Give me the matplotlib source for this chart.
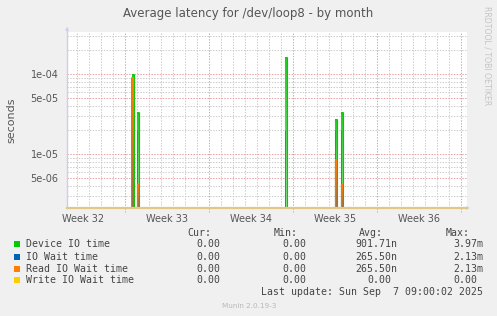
import matplotlib
matplotlib.use("Agg")
import matplotlib.pyplot as plt
from matplotlib.patches import Rectangle
from matplotlib.collections import LineCollection
from matplotlib.colors import to_rgb
import numpy as np

# ── data (x in days since the left edge of the graph) ───────────────────────
spike_day   = [5.46, 5.94, 18.28, 22.44, 22.94]
device_io   = [1.01e-4, 3.4e-5, 1.63e-4, 2.79e-5, 3.35e-5]
io_wait     = [9.3e-5, 4.3e-6, 0.0, 8.8e-6, 4.3e-6]
read_wait   = [9.3e-5, 4.3e-6, 0.0, 8.8e-6, 4.3e-6]
write_wait  = [0.0, 0.0, 0.0, 0.0, 0.0]

week_labels = ["Week 32", "Week 33", "Week 34", "Week 35", "Week 36"]
first_week_line = 4.86          # first Sunday 00:00, days from start
span_days = 33.33

series_names = ["Device IO time", "IO Wait time", "Read IO Wait time", "Write IO Wait time"]
series_cur = ["0.00", "0.00", "0.00", "0.00"]
series_min = ["0.00", "0.00", "0.00", "0.00"]
series_avg = ["901.71n", "265.50n", "265.50n", "0.00"]
series_max = ["3.97m", "2.13m", "2.13m", "0.00"]
series_col = ["#00CC00", "#0066B3", "#FF8000", "#FFCC00"]

y_lo, y_hi = 2.13e-6, 3.38e-4

# ── figure ──────────────────────────────────────────────────────────────────
W, H = 497, 316
fig = plt.figure(figsize=(W / 100, H / 100), dpi=100, facecolor="#F0F0F0")
ax = fig.add_axes([67 / W, 1 - 208 / H, 400 / W, 176 / H])
ax.set_facecolor("white")
ax.set_xlim(0, span_days)
ax.set_yscale("log")
ax.set_ylim(y_lo, y_hi)


def px(x, y):
    return x / W, 1 - y / H


# grid: daily minor, weekly major (red)
GREY = "#cccccc"
RED = "#e8a0a0"
DOT = (0, (1.4, 1.4))
for d in np.arange(first_week_line - 7, span_days, 1.0):
    if d <= 0:
        continue
    is_major = abs(((d - first_week_line) / 7) - round((d - first_week_line) / 7)) < 1e-6
    ax.axvline(d, color=RED if is_major else GREY, lw=0.72, ls=DOT, zorder=1)
    if is_major:
        ax.plot([d, d], [0, -0.022], transform=ax.get_xaxis_transform(),
                color=RED, lw=0.72, ls=DOT, clip_on=False)

for dec in [1e-6, 1e-5, 1e-4]:
    for m in range(1, 10):
        v = dec * m
        if not (y_lo < v < y_hi):
            continue
        major = m in (1, 5)
        ax.axhline(v, color=RED if major else GREY, lw=0.72, ls=DOT, zorder=1)


def grad_vline(x, v, c_top, c_bot, lw, z, n=40):
    """vertical line from the bottom to v, colour fading from c_bot to c_top"""
    ys = np.logspace(np.log10(y_lo), np.log10(v), n + 1)
    segs = [[(x, ys[k]), (x, ys[k + 1])] for k in range(n)]
    t = np.linspace(0, 1, n)[:, None]
    cols = np.array(to_rgb(c_bot)) * (1 - t) + np.array(to_rgb(c_top)) * t
    ax.add_collection(LineCollection(segs, colors=cols, linewidths=lw, zorder=z))


# data lines
ax.axhline(y_lo * 1.003, color="#E2C888", lw=1.6, zorder=6, clip_on=False)
hw = 0.09
for d, g, o in zip(spike_day, device_io, read_wait):
    # green column (device IO)
    grad_vline(d, g, "#22cc22", "#88dd88", 1.5, 3)
    ax.vlines(d + hw, y_lo, g, color=series_col[0], lw=0.8, zorder=4)
    ax.vlines(d, g * 0.97, g, color=series_col[0], lw=2.2, zorder=4)
    ax.vlines(d - hw, y_lo, min(g, 2e-5), color="#8a6a40", lw=0.7, zorder=4)
    if o > 0:
        grad_vline(d, o, series_col[2], "#9a7048", 1.6, 5)
        ax.vlines(d - hw, y_lo, o, color="#e07820", lw=0.7, zorder=5)

# axes
for s in ax.spines.values():
    s.set_visible(False)
ax.plot([0, 0], [0, 1.02], transform=ax.transAxes, color="#ccccee",
        lw=1, clip_on=False, zorder=5)
ax.annotate("", xy=(0, 1.045), xytext=(0, 1.0), xycoords="axes fraction",
            arrowprops=dict(arrowstyle="-|>", color="#ccccee", lw=0,
                            mutation_scale=7))
ax.annotate("", xy=(1.014, 0), xytext=(0.998, 0), xycoords="axes fraction",
            arrowprops=dict(arrowstyle="-|>", color="#ccccee", lw=0,
                            mutation_scale=7))

ax.set_yticks([5e-6, 1e-5, 5e-5, 1e-4])
ax.set_yticklabels(["5e-06", "1e-05", "5e-05", "1e-04"])
ax.yaxis.set_minor_locator(matplotlib.ticker.NullLocator())
ax.set_xticks([first_week_line - 3.5 + 7 * i for i in range(len(week_labels))])
ax.set_xticklabels(week_labels)
ax.tick_params(axis="both", length=0, labelsize=7, labelcolor="#555555")
ax.tick_params(axis="y", pad=6)
ax.tick_params(axis="x", pad=4)

# texts
fig.text(*px(248, 13.5), "Average latency for /dev/loop8 - by month",
         ha="center", va="center", fontsize=8.5, color="#555555")
fig.text(*px(11, 120), "seconds", rotation=90, ha="center", va="center",
         fontsize=8, color="#555555")
fig.text(*px(487, 6), "RRDTOOL / TOBI OETIKER", rotation=270, ha="center",
         va="top", fontsize=5.6, color="#c4c4c4")
fig.text(*px(249, 305.5), "Munin 2.0.19-3", ha="center", va="center",
         fontsize=5.2, color="#b8b8b8")

MONO = dict(family="DejaVu Sans Mono", fontsize=7.1, color="#444444", va="center")
CH = 5.95
hdr_y = 232.7
for label, xr in [("Cur:", 211.7), ("Min:", 297.7), ("Avg:", 383), ("Max:", 469.3)]:
    fig.text(*px(xr, hdr_y), label, ha="right", **MONO)

row_y = [244.3, 256.5, 268.5, 280.3]
cols_r = [226, 312, 397, 483]
for i, name in enumerate(series_names):
    y = row_y[i]
    fig.add_artist(Rectangle(px(14, y + 3), 6 / W, 6 / H,
                             transform=fig.transFigure,
                             facecolor=series_col[i], edgecolor="none"))
    fig.text(*px(26.5, y), name, ha="left", **MONO)
    for vals, xr in zip([series_cur, series_min, series_avg, series_max], cols_r):
        v = vals[i]
        x = xr if v[-1].isalpha() else xr - CH
        fig.text(*px(x, y), v, ha="right", **MONO)

fig.text(*px(483, 292.3), "Last update: Sun Sep  7 09:00:02 2025",
         ha="right", **MONO)

fig.savefig("out.png", dpi=100, facecolor=fig.get_facecolor())
